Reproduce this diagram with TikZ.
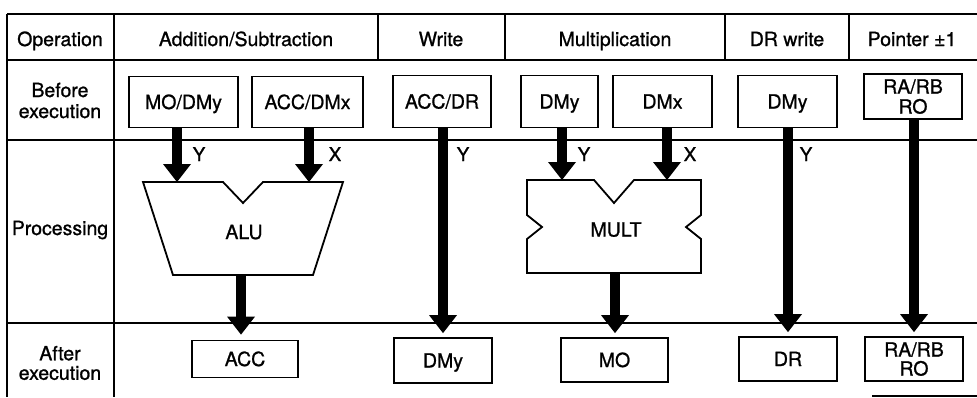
\documentclass[tikz,border=0pt]{standalone}
\usepackage{fontspec}
\setmainfont[FakeBold=1]{TeX Gyre Heros}
\usetikzlibrary{arrows.meta}
\begin{document}
\begin{tikzpicture}[x=1pt,y=-1pt,
  grid/.style={line width=1.4pt},
  shapeline/.style={line width=1.8pt, line join=miter},
  lbl/.style={inner sep=0pt, text height=14pt, text depth=0pt, font=\fontsize{19.5}{21}\selectfont},
  lbltwo/.style={inner sep=0pt, align=center, text height=14pt+#1, text depth=0pt, font=\fontsize{19.5}{#1}\selectfont},
  box/.style={draw, line width=1.8pt, inner sep=0pt, text height=14pt, text depth=0pt, font=\fontsize{19.5}{21}\selectfont},
  boxtwo/.style={draw, line width=1.8pt, inner sep=0pt, align=center, text height=14pt+#1, text depth=0pt, font=\fontsize{19.5}{#1}\selectfont},
  io/.style={inner sep=0pt, text height=14pt, text depth=0pt, font=\fontsize{19}{21}\selectfont},
  bigarrow/.style={line width=10.5pt, -{Triangle[width=28pt,length=18pt,line width=0pt]}}]
\useasboundingbox (0,0) rectangle (977,397);
% table
\draw[grid] (7,14) -- (977,14);
\draw[grid] (7,60) -- (977,60);
\draw[grid] (7,140) -- (977,140);
\draw[grid] (7,323) -- (977,323);
\draw[grid] (7,14) -- (7,397);
\draw[grid] (114,14) -- (114,397);
\draw[grid] (378,14) -- (378,60);
\draw[grid] (505,14) -- (505,60);
\draw[grid] (725,14) -- (725,60);
\draw[grid] (849,14) -- (849,60);
\draw[grid] (872,396) -- (977,396);
% header labels
\node[lbl] (hop) at (60,39) {Operation};
\node[lbl] (hadd) at (246,39) {Addition/Subtraction};
\node[lbl] (hwr) at (441,39) {Write};
\node[lbl] (hmul) at (615,39) {Multiplication};
\node[lbl] (hdr) at (787,39) {DR write};
\node[lbl] (hptr) at (912,39) {Pointer ±1};
% row labels
\node[lbltwo=21pt] (rbefore) at (60,100.5) {Before\\execution};
\node[lbl] (rproc) at (60,228) {Processing};
\node[lbltwo=19.5pt] (rafter) at (60,363) {After\\execution};
% before boxes
\node[box, minimum width=109pt, minimum height=51pt] (modmy) at (183.5,102) {MO/DMy};
\node[box, minimum width=111pt, minimum height=51pt] (accdmx) at (307.5,102) {ACC/DMx};
\node[box, minimum width=98pt, minimum height=52pt] (accdr) at (442,101.5) {ACC/DR};
\node[box, minimum width=77pt, minimum height=52pt] (dmya) at (559.5,101.5) {DMy};
\node[box, minimum width=99pt, minimum height=52pt] (dmx) at (662.5,101.5) {DMx};
\node[box, minimum width=99pt, minimum height=52pt] (dmyb) at (787.5,101.5) {DMy};
\node[boxtwo=20pt, minimum width=98pt, minimum height=45pt] (rarba) at (913,96.5) {RA/RB\\RO};
% after boxes
\node[box, minimum width=106pt, minimum height=37pt] (acc) at (245,359) {ACC};
\node[box, minimum width=98pt, minimum height=45pt] (dmyc) at (443,360.5) {DMy};
\node[box, minimum width=107pt, minimum height=44pt] (mo) at (614.5,360) {MO};
\node[box, minimum width=98pt, minimum height=44pt] (dr) at (788,359) {DR};
\node[boxtwo=19pt, minimum width=98pt, minimum height=44pt] (rarbb) at (914,359) {RA/RB\\RO};
% ALU
\draw[shapeline] (143,182) -- (223,182) -- (243,203) -- (263,182) -- (343,182)
  -- (313,275) -- (173,275) -- cycle;
\node[lbl] (alu) at (244,232) {ALU};
\coordinate (aluY) at (177,182);
\coordinate (aluX) at (309,182);
\coordinate (aluOut) at (241,275);
% MULT
\draw[shapeline] (527,180) -- (594,180) -- (614,203) -- (634,180) -- (701,180)
  -- (701,215) -- (686,227) -- (701,239) -- (701,273) -- (527,273)
  -- (527,239) -- (542,227) -- (527,215) -- cycle;
\node[lbl] (mult) at (616,229.5) {MULT};
\coordinate (multY) at (562,180);
\coordinate (multX) at (667,180);
\coordinate (multOut) at (615,273);
% arrows
\draw[bigarrow] (modmy.south -| aluY) -- (aluY);
\draw[bigarrow] (accdmx.south -| aluX) -- (aluX);
\draw[bigarrow] (aluOut) -- ([yshift=5pt]acc.north -| aluOut);
\draw[bigarrow] (accdr.south -| dmyc.north) -- ([yshift=4pt]dmyc.north);
\draw[bigarrow] (dmya.south -| multY) -- (multY);
\draw[bigarrow] (dmx.south -| multX) -- (multX);
\draw[bigarrow] (multOut) -- ([yshift=4pt]mo.north -| multOut);
\draw[bigarrow] (dmyb.south -| dr.north) -- ([yshift=4pt]dr.north);
\draw[bigarrow] (rarba.south -| rarbb.north) -- ([yshift=4pt]rarbb.north);
% port labels
\node[io] (ly1) at (199,154) {Y};
\node[io] (lx1) at (335,154) {X};
\node[io] (ly2) at (463,154) {Y};
\node[io] (ly3) at (584,154) {Y};
\node[io] (lx2) at (690,154) {X};
\node[io] (ly4) at (806,154) {Y};
\end{tikzpicture}
\end{document}
